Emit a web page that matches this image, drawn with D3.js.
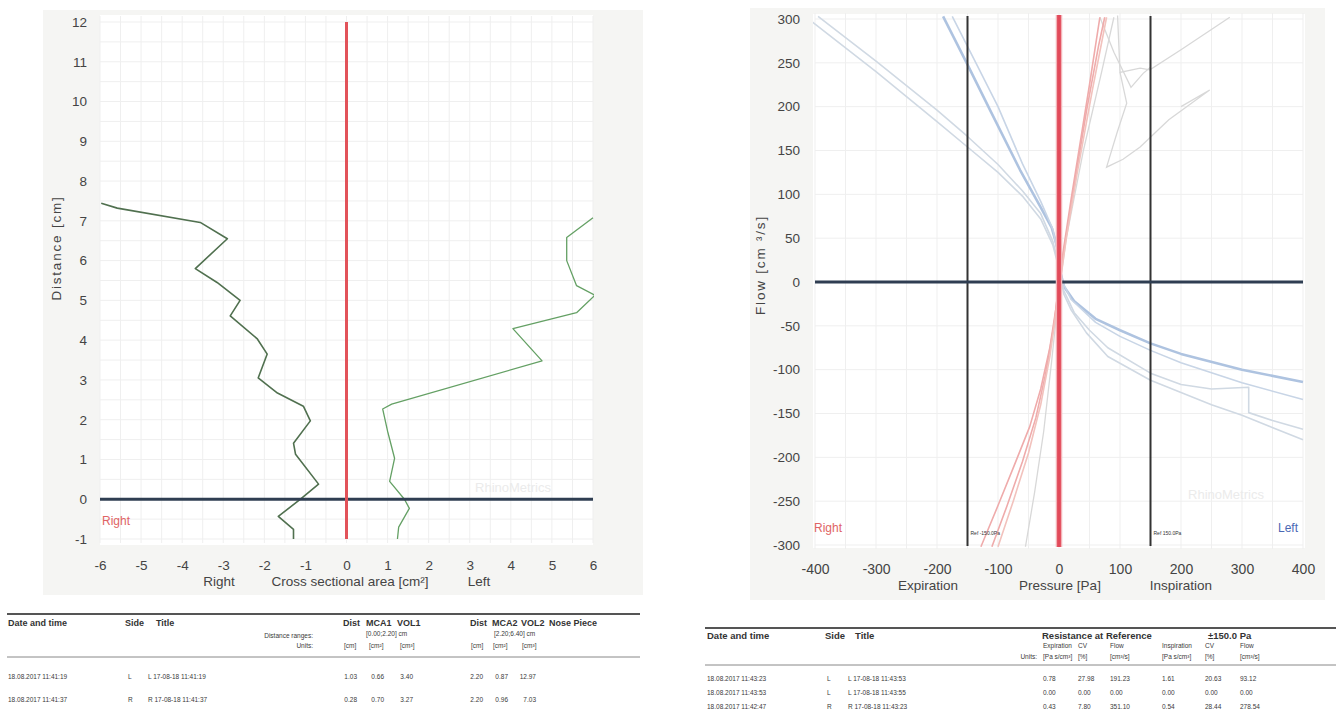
<!DOCTYPE html>
<html>
<head>
<meta charset="utf-8">
<script src="https://cdn.jsdelivr.net/npm/d3@7"></script>
<style>
  body { margin: 0; background: #fff; }
  svg { display: block; font-family: "Liberation Sans", Arial, sans-serif; }
</style>
</head>
<body>
<svg id="page" width="1336" height="724"></svg>
<script>
const svg = d3.select('#page');

// ---- acoustic rhinometry (left chart) ----
const distanceTicks = [-1, 0, 1, 2, 3, 4, 5, 6, 7, 8, 9, 10, 11, 12];
const areaTicks = [-6, -5, -4, -3, -2, -1, 0, 1, 2, 3, 4, 5, 6];
// [area cm², distance cm]
const rightProfile = [[-5.97, 7.44], [-5.58, 7.32], [-3.56, 6.96], [-2.9, 6.55], [-3.68, 5.8], [-3.15, 5.45],
  [-2.59, 5.0], [-2.83, 4.61], [-2.17, 4.03], [-1.93, 3.65], [-2.15, 3.05], [-1.68, 2.67], [-1.05, 2.34],
  [-0.88, 1.97], [-1.29, 1.41], [-1.24, 1.13], [-0.68, 0.38], [-1.12, 0], [-1.66, -0.43], [-1.29, -0.76], [-1.29, -1.0]];
const leftProfile = [[1.24, -1.0], [1.27, -0.7], [1.53, -0.23], [1.41, 0], [1.05, 0.45], [1.17, 1.03], [1.0, 1.71],
  [0.88, 2.27], [1.1, 2.39], [4.76, 3.48], [4.05, 4.29], [5.6, 4.69], [6.05, 5.13], [5.6, 5.37], [5.36, 6.0],
  [5.36, 6.58], [6.0, 7.08]];

// ---- rhinomanometry (right chart) ----
const pressureTicks = [-400, -300, -200, -100, 0, 100, 200, 300, 400];
const flowTicks = [-300, -250, -200, -150, -100, -50, 0, 50, 100, 150, 200, 250, 300];
const referencePressures = [-150, 150];
const referenceLabels = ['Ref -150.0Pa', 'Ref 150.0Pa'];
// [pressure Pa, flow cm³/s]
const leftSideCurves = [
  [[-190, 303], [-150, 248], [-113, 196], [-64, 128], [-30, 85], [-12, 62], [-3, 40], [2, 12], [8, -5], [25, -22],
   [60, -42], [100, -55], [150, -70], [200, -82], [300, -100], [400, -114]],
  [[-175, 303], [-140, 255], [-100, 200], [-60, 135], [-30, 92], [-10, 60], [0, 25], [6, 0], [20, -20], [60, -46],
   [100, -62], [150, -78], [200, -92], [300, -115], [400, -134]],
  [[-405, 297], [-300, 240], [-200, 183], [-150, 154], [-100, 125], [-60, 98], [-30, 72], [-10, 42], [0, 15], [8, -10],
   [25, -35], [50, -55], [80, -75], [150, -104], [200, -117], [250, -122], [311, -120], [311, -149], [350, -158], [400, -168]],
  [[-395, 303], [-300, 252], [-200, 196], [-150, 166], [-100, 134], [-60, 104], [-30, 78], [-10, 46], [0, 18], [8, -14],
   [20, -32], [45, -58], [80, -85], [150, -112], [250, -140], [300, -152], [400, -180]]
];
const rightSideCurves = [
  [[-128, -302], [-100, -255], [-75, -212], [-48, -165], [-30, -122], [-15, -75], [-5, -30], [0, 0], [8, 40],
   [20, 95], [35, 160], [50, 225], [67, 302]],
  [[-110, -302], [-85, -255], [-60, -205], [-38, -155], [-22, -105], [-8, -48], [0, 0], [10, 45], [25, 110],
   [45, 195], [65, 270], [75, 302]],
  [[-100, -302], [-75, -250], [-50, -195], [-30, -140], [-15, -85], [-5, -35], [2, 0], [12, 50], [30, 125],
   [55, 220], [78, 302]]
];
const greyCurves = [
  [[-55, -302], [-40, -240], [-25, -170], [-12, -90], [0, -10], [12, 50], [40, 150], [70, 240], [90, 302]],
  [[96, 304], [100, 239], [133, 244], [149, 242], [200, 265], [280, 302]],
  [[100, 239], [111, 204], [95, 170], [78, 131], [105, 140], [133, 154], [180, 185], [247, 219], [200, 200]],
  [[67, 302], [90, 262], [118, 222], [138, 238], [150, 245]]
];

// ---- tables ----
const mcaRows = [
  ['18.08.2017 11:41:19', 'L', 'L 17-08-18 11:41:19', '1.03', '0.66', '3.40', '2.20', '0.87', '12.97'],
  ['18.08.2017 11:41:37', 'R', 'R 17-08-18 11:41:37', '0.28', '0.70', '3.27', '2.20', '0.96', '7.03']
];
const resistanceRows = [
  ['18.08.2017 11:43:23', 'L', 'L 17-08-18 11:43:53', '0.78', '27.98', '191.23', '1.61', '20.63', '93.12'],
  ['18.08.2017 11:43:53', 'L', 'L 17-08-18 11:43:55', '0.00', '0.00', '0.00', '0.00', '0.00', '0.00'],
  ['18.08.2017 11:42:47', 'R', 'R 17-08-18 11:43:23', '0.43', '7.80', '351.10', '0.54', '28.44', '278.54']
];

function txt(g, x, y, s, o = {}) {
  return g.append('text').attr('x', x).attr('y', y).text(s)
    .attr('font-size', o.size || 7).attr('font-weight', o.bold ? 'bold' : null)
    .attr('text-anchor', o.anchor || 'start').attr('fill', o.fill || '#3a3a3a');
}

function grid(g, xs, ys, xVals, yVals, color) {
  g.append('g').selectAll('line').data(xVals).join('line')
    .attr('x1', d => xs(d)).attr('x2', d => xs(d))
    .attr('y1', ys.range()[1] - 6).attr('y2', ys.range()[0] + 4)
    .attr('stroke', color).attr('stroke-width', 1);
  g.append('g').selectAll('line').data(yVals).join('line')
    .attr('y1', d => ys(d)).attr('y2', d => ys(d))
    .attr('x1', xs.range()[0]).attr('x2', xs.range()[1])
    .attr('stroke', color).attr('stroke-width', 1);
}

function styleAxis(sel, size) {
  sel.select('.domain').remove();
  sel.selectAll('text').attr('font-size', size).attr('fill', '#444')
    .attr('font-family', '"Liberation Sans", Arial, sans-serif');
}

// ================= left chart =================
{
  const x = d3.scaleLinear().domain([-6, 6]).range([100, 593]);
  const y = d3.scaleLinear().domain([-1, 12]).range([539, 22]);
  const g = svg.append('g');

  g.append('rect').attr('x', 43).attr('y', 10).attr('width', 600).attr('height', 585).attr('fill', '#f5f5f3');
  g.append('rect').attr('x', 100).attr('y', 15).attr('width', 493).attr('height', 530).attr('fill', '#fff');

  grid(g, x, y, d3.range(-6, 6.01, 0.5), d3.range(-1, 12.01, 0.5), '#efefef');

  g.append('clipPath').attr('id', 'clipL').append('rect')
    .attr('x', 100).attr('y', 15).attr('width', 494).attr('height', 530);

  g.append('text').attr('x', 513).attr('y', 492).attr('text-anchor', 'middle')
    .attr('font-size', 13).attr('fill', '#ebebeb').text('RhinoMetrics');

  const line = d3.line().x(d => x(d[0])).y(d => y(d[1]));
  const curves = g.append('g').attr('clip-path', 'url(#clipL)');
  curves.append('path').attr('d', line(rightProfile)).attr('fill', 'none')
    .attr('stroke', '#50704f').attr('stroke-width', 1.6).attr('stroke-linejoin', 'round');
  curves.append('path').attr('d', line(leftProfile)).attr('fill', 'none')
    .attr('stroke', '#64a064').attr('stroke-width', 1.3).attr('stroke-linejoin', 'round');

  g.append('line').attr('x1', x(-6)).attr('x2', x(6)).attr('y1', y(0)).attr('y2', y(0))
    .attr('stroke', '#2f3e52').attr('stroke-width', 3);
  g.append('line').attr('x1', x(0)).attr('x2', x(0)).attr('y1', y(12)).attr('y2', y(-1))
    .attr('stroke', '#e2535a').attr('stroke-width', 3);

  g.append('g').attr('transform', 'translate(100,0)')
    .call(d3.axisLeft(y).tickValues(distanceTicks).tickSize(0).tickPadding(13).tickFormat(d => String(d)))
    .call(s => styleAxis(s, 13.5));
  g.append('g').attr('transform', 'translate(0,545)')
    .call(d3.axisBottom(x).tickValues(areaTicks).tickSize(0).tickPadding(15).tickFormat(d => String(d)))
    .call(s => styleAxis(s, 13.5));

  txt(g, 102, 525, 'Right', { size: 12, fill: '#e06464' });
  txt(g, 219, 586, 'Right', { size: 13.5, anchor: 'middle', fill: '#444' });
  txt(g, 350, 586, 'Cross sectional area [cm²]', { size: 13.5, anchor: 'middle', fill: '#444' });
  txt(g, 479, 586, 'Left', { size: 13.5, anchor: 'middle', fill: '#444' });
  g.append('text').attr('transform', 'translate(61,248) rotate(-90)').attr('text-anchor', 'middle')
    .attr('font-size', 13.5).attr('letter-spacing', 1.8).attr('fill', '#444').text('Distance [cm]');
}

// ================= right chart =================
{
  const x = d3.scaleLinear().domain([-400, 400]).range([815, 1303]);
  const y = d3.scaleLinear().domain([-300, 300]).range([545, 19]);
  const g = svg.append('g');

  g.append('rect').attr('x', 750).attr('y', 8).attr('width', 575).attr('height', 592).attr('fill', '#f5f5f3');
  g.append('rect').attr('x', 813).attr('y', 14).attr('width', 492).attr('height', 534).attr('fill', '#fff');

  grid(g, x, y, d3.range(-400, 401, 50), d3.range(-300, 301, 50), '#efefef');

  g.append('clipPath').attr('id', 'clipR').append('rect')
    .attr('x', 813).attr('y', 14).attr('width', 492).attr('height', 534);

  g.append('text').attr('x', 1226).attr('y', 499).attr('text-anchor', 'middle')
    .attr('font-size', 13).attr('fill', '#ebebeb').text('RhinoMetrics');

  const lineRaw = d3.line().x(d => x(d[0])).y(d => y(d[1]));
  const curves = g.append('g').attr('clip-path', 'url(#clipR)');

  curves.selectAll('.grey').data(greyCurves).join('path')
    .attr('d', d => lineRaw(d)).attr('fill', 'none').attr('stroke', '#d8d8d8').attr('stroke-width', 1.3);
  curves.selectAll('.blue').data(leftSideCurves).join('path')
    .attr('d', d => lineRaw(d)).attr('fill', 'none')
    .attr('stroke', (d, i) => i === 0 ? '#aec3e0' : i === 1 ? '#c8d5e6' : '#d0d9e3')
    .attr('stroke-width', (d, i) => i === 0 ? 2.6 : 1.6).attr('stroke-linejoin', 'round');
  curves.selectAll('.red').data(rightSideCurves).join('path')
    .attr('d', d => lineRaw(d)).attr('fill', 'none')
    .attr('stroke', (d, i) => i === 2 ? '#f2c2bd' : '#efabab').attr('stroke-width', 1.6)
    .attr('stroke-linejoin', 'round');

  g.selectAll('.ref').data(referencePressures).join('line')
    .attr('x1', d => x(d)).attr('x2', d => x(d)).attr('y1', 16).attr('y2', 546)
    .attr('stroke', '#333').attr('stroke-width', 2);
  g.selectAll('.reflabel').data(referencePressures).join('text')
    .attr('x', d => x(d) + 3).attr('y', 535).attr('font-size', 5).attr('fill', '#333')
    .text((d, i) => referenceLabels[i]);

  g.append('line').attr('x1', x(-400)).attr('x2', x(400)).attr('y1', y(0)).attr('y2', y(0))
    .attr('stroke', '#2f3e52').attr('stroke-width', 3);
  g.append('line').attr('x1', x(0)).attr('x2', x(0)).attr('y1', 15).attr('y2', 547)
    .attr('stroke', '#f3b4b8').attr('stroke-width', 6.5);
  g.append('line').attr('x1', x(0)).attr('x2', x(0)).attr('y1', 15).attr('y2', 547)
    .attr('stroke', '#e24a5a').attr('stroke-width', 3.8);

  g.append('g').attr('transform', 'translate(815,0)')
    .call(d3.axisLeft(y).tickValues(flowTicks).tickSize(0).tickPadding(15).tickFormat(d => String(d)))
    .call(s => styleAxis(s, 13.5));
  g.append('g').attr('transform', 'translate(0,548)')
    .call(d3.axisBottom(x).tickValues(pressureTicks).tickSize(0).tickPadding(16).tickFormat(d => String(d)))
    .call(s => styleAxis(s, 14));

  txt(g, 814, 532, 'Right', { size: 12, fill: '#e06464' });
  txt(g, 1298, 532, 'Left', { size: 12, anchor: 'end', fill: '#4a68b4' });
  txt(g, 928, 590, 'Expiration', { size: 13.5, anchor: 'middle', fill: '#444' });
  txt(g, 1060, 590, 'Pressure [Pa]', { size: 13.5, anchor: 'middle', fill: '#444' });
  txt(g, 1181, 590, 'Inspiration', { size: 13.5, anchor: 'middle', fill: '#444' });
  g.append('text').attr('transform', 'translate(765,265) rotate(-90)').attr('text-anchor', 'middle')
    .attr('font-size', 13.5).attr('letter-spacing', 1.8).attr('fill', '#444').text('Flow [cm ³/s]');
}

// ================= left table =================
{
  const g = svg.append('g');
  g.append('line').attr('x1', 7).attr('x2', 640).attr('y1', 614).attr('y2', 614).attr('stroke', '#555').attr('stroke-width', 2);
  g.append('line').attr('x1', 7).attr('x2', 640).attr('y1', 657).attr('y2', 657).attr('stroke', '#888').attr('stroke-width', 1);
  const hb = { size: 9, bold: true, fill: '#333' };
  txt(g, 8, 626, 'Date and time', hb);
  txt(g, 125, 626, 'Side', hb);
  txt(g, 156, 626, 'Title', hb);
  txt(g, 343, 626, 'Dist', hb);
  txt(g, 366, 626, 'MCA1', hb);
  txt(g, 397, 626, 'VOL1', hb);
  txt(g, 470, 626, 'Dist', hb);
  txt(g, 492, 626, 'MCA2', hb);
  txt(g, 521, 626, 'VOL2', hb);
  txt(g, 549, 626, 'Nose Piece', hb);
  txt(g, 313, 638, 'Distance ranges:', { size: 6.5, anchor: 'end' });
  txt(g, 366, 636, '[0.00;2.20] cm', { size: 6.5 });
  txt(g, 494, 636, '[2.20;6.40] cm', { size: 6.5 });
  txt(g, 313, 648, 'Units:', { size: 6.5, anchor: 'end' });
  ['[cm]', '[cm²]', '[cm³]'].forEach((u, i) => {
    txt(g, [344, 369, 400][i], 648, u, { size: 6.5 });
    txt(g, [471, 493, 522][i], 648, u, { size: 6.5 });
  });
  const valueEnds = [357, 384, 413, 483, 508, 536];
  mcaRows.forEach((r, k) => {
    const yy = 679 + k * 23;
    txt(g, 8, yy, r[0], { size: 6.5 });
    txt(g, 128, yy, r[1], { size: 6.5 });
    txt(g, 148, yy, r[2], { size: 6.5 });
    r.slice(3).forEach((v, i) => txt(g, valueEnds[i], yy, v, { size: 6.5, anchor: 'end' }));
  });
}

// ================= right table =================
{
  const g = svg.append('g');
  g.append('line').attr('x1', 705).attr('x2', 1336).attr('y1', 628).attr('y2', 628).attr('stroke', '#555').attr('stroke-width', 2);
  g.append('line').attr('x1', 705).attr('x2', 1336).attr('y1', 665).attr('y2', 665).attr('stroke', '#888').attr('stroke-width', 1);
  const hb = { size: 9.5, bold: true, fill: '#333' };
  txt(g, 707, 639, 'Date and time', hb);
  txt(g, 825, 639, 'Side', hb);
  txt(g, 855, 639, 'Title', hb);
  txt(g, 1042, 639, 'Resistance at Reference', hb);
  txt(g, 1208, 639, '±150.0 Pa', hb);
  const cols = [1043, 1078, 1110, 1162, 1205, 1240];
  ['Expiration', 'CV', 'Flow', 'Inspiration', 'CV', 'Flow'].forEach((s, i) => txt(g, cols[i], 648, s, { size: 6.5 }));
  txt(g, 1037, 659, 'Units:', { size: 6.5, anchor: 'end' });
  ['[Pa s/cm³]', '[%]', '[cm³/s]', '[Pa s/cm³]', '[%]', '[cm³/s]'].forEach((s, i) => txt(g, cols[i], 659, s, { size: 6.5 }));
  resistanceRows.forEach((r, k) => {
    const yy = 681 + k * 14;
    txt(g, 707, yy, r[0], { size: 6.5 });
    txt(g, 827, yy, r[1], { size: 6.5 });
    txt(g, 848, yy, r[2], { size: 6.5 });
    r.slice(3).forEach((v, i) => txt(g, cols[i], yy, v, { size: 6.5 }));
  });
}
</script>
</body>
</html>
